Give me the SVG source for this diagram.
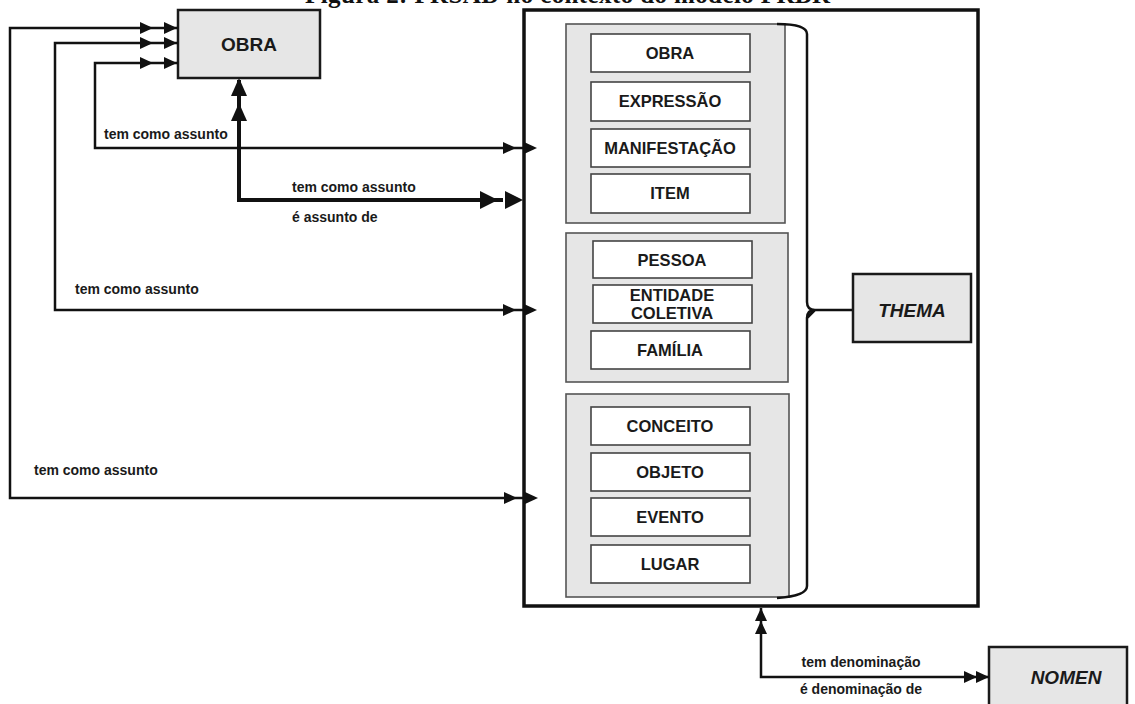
<svg xmlns="http://www.w3.org/2000/svg" width="1135" height="704" viewBox="0 0 1135 704">
<style>
.box{fill:#e6e6e6;stroke:#1a1a1a;stroke-width:2.5}
.grp{fill:#e6e6e6;stroke:#555;stroke-width:1.6}
.item{fill:#fff;stroke:#444;stroke-width:1.6}
.t{font-family:"Liberation Sans",Arial,sans-serif;font-weight:bold;fill:#1a1a1a;text-anchor:middle}
.it{font-size:16.5px}
.lbl{font-family:"Liberation Sans",Arial,sans-serif;font-weight:bold;font-size:14px;fill:#1a1a1a}
.ln{fill:none;stroke:#111;stroke-width:2.5;stroke-linejoin:miter}
.thick{fill:none;stroke:#111;stroke-width:4}
.ah{fill:#111}
</style>
<text x="305" y="3" font-family="Liberation Serif,serif" font-weight="bold" font-size="25" textLength="525" fill="#111">Figura 2: FRSAD no contexto do modelo FRBR</text>

<g id="main">
<rect x="524" y="10" width="454" height="596" fill="#fff" stroke="#111" stroke-width="3.5"/>
</g>

<g id="obra-main">
<rect class="box" x="178" y="10" width="142" height="68"/>
<text class="t" x="249" y="51" font-size="19">OBRA</text>
</g>

<g id="group1">
<rect class="grp" x="566" y="24" width="219" height="199"/>
<g id="g1-obra"><rect class="item" x="591" y="34" width="159" height="38"/><text class="t it" x="670" y="59">OBRA</text></g>
<g id="g1-expressao"><rect class="item" x="591" y="82" width="159" height="39"/><text class="t it" x="670" y="107">EXPRESSÃO</text></g>
<g id="g1-manifestacao"><rect class="item" x="591" y="129" width="159" height="38"/><text class="t it" x="670" y="154">MANIFESTAÇÃO</text></g>
<g id="g1-item"><rect class="item" x="591" y="174" width="159" height="39"/><text class="t it" x="670" y="199">ITEM</text></g>
</g>

<g id="group2">
<rect class="grp" x="566" y="233" width="222" height="149"/>
<g id="g2-pessoa"><rect class="item" x="593" y="241" width="159" height="37"/><text class="t it" x="672" y="266">PESSOA</text></g>
<g id="g2-entidade"><rect class="item" x="593" y="285" width="159" height="38"/><text class="t it" x="672" y="301">ENTIDADE</text><text class="t it" x="672" y="319">COLETIVA</text></g>
<g id="g2-familia"><rect class="item" x="591" y="331" width="159" height="38"/><text class="t it" x="670" y="356">FAMÍLIA</text></g>
</g>

<g id="group3">
<rect class="grp" x="566" y="394" width="223" height="203"/>
<g id="g3-conceito"><rect class="item" x="591" y="407" width="159" height="38"/><text class="t it" x="670" y="432">CONCEITO</text></g>
<g id="g3-objeto"><rect class="item" x="591" y="453" width="159" height="38"/><text class="t it" x="670" y="478">OBJETO</text></g>
<g id="g3-evento"><rect class="item" x="591" y="498" width="159" height="38"/><text class="t it" x="670" y="523">EVENTO</text></g>
<g id="g3-lugar"><rect class="item" x="591" y="545" width="159" height="38"/><text class="t it" x="670" y="570">LUGAR</text></g>
</g>

<g id="brace">
<path class="ln" stroke-width="3" d="M777,24 Q807,24 807,34 L807,302 Q807,310 815,310 M807,318 Q807,310 815,310 L807,318 L807,586 Q807,596 777,598 M812,310 L853,310"/>
</g>

<g id="thema">
<rect class="box" x="853" y="274" width="118" height="68"/>
<text class="t" x="912" y="317" font-size="19" font-style="italic">THEMA</text>
</g>

<g id="nomen">
<rect class="box" x="989" y="647" width="138" height="70"/>
<text class="t" x="1066" y="684" font-size="19" font-style="italic">NOMEN</text>
</g>

<g id="connectors">
<path class="ln" d="M178,28 L10,28 L10,498 L524,498"/>
<path class="ln" d="M178,43 L55,43 L55,310 L524,310"/>
<path class="ln" d="M178,63 L95,63 L95,148 L524,148"/>
<path class="thick" d="M239,80 L239,200 L503,200"/>
<path class="ln" d="M761,608 L761,677 L989,677"/>
<polygon class="ah" points="153,28 140,22 140,34"/>
<polygon class="ah" points="177,28 164,22 164,34"/>
<polygon class="ah" points="153,43 140,37 140,49"/>
<polygon class="ah" points="177,43 164,37 164,49"/>
<polygon class="ah" points="153,63 140,57 140,69"/>
<polygon class="ah" points="177,63 164,57 164,69"/>
<polygon class="ah" points="516,148 503,142 503,154"/>
<polygon class="ah" points="537,148 524,142 524,154"/>
<polygon class="ah" points="516,310 503,304 503,316"/>
<polygon class="ah" points="537,310 524,304 524,316"/>
<polygon class="ah" points="517,498 504,492 504,504"/>
<polygon class="ah" points="538,498 525,492 525,504"/>
<polygon class="ah" points="498,200 480,191 480,209"/>
<polygon class="ah" points="523,200 505,191 505,209"/>
<polygon class="ah" points="239,78 231,96 247,96"/>
<polygon class="ah" points="239,103 231,121 247,121"/>
<polygon class="ah" points="761,608 755,621 767,621"/>
<polygon class="ah" points="761,621 755,634 767,634"/>
<polygon class="ah" points="977,677 964,671 964,683"/>
<polygon class="ah" points="989,677 976,671 976,683"/>
</g>

<g id="labels">
<text class="lbl" x="104" y="139">tem como assunto</text>
<text class="lbl" x="292" y="192">tem como assunto</text>
<text class="lbl" x="292" y="222">é assunto de</text>
<text class="lbl" x="75" y="294">tem como assunto</text>
<text class="lbl" x="34" y="475">tem como assunto</text>
<text class="lbl" x="861" y="667" text-anchor="middle">tem denominação</text>
<text class="lbl" x="861" y="694" text-anchor="middle">é denominação de</text>
</g>
</svg>
